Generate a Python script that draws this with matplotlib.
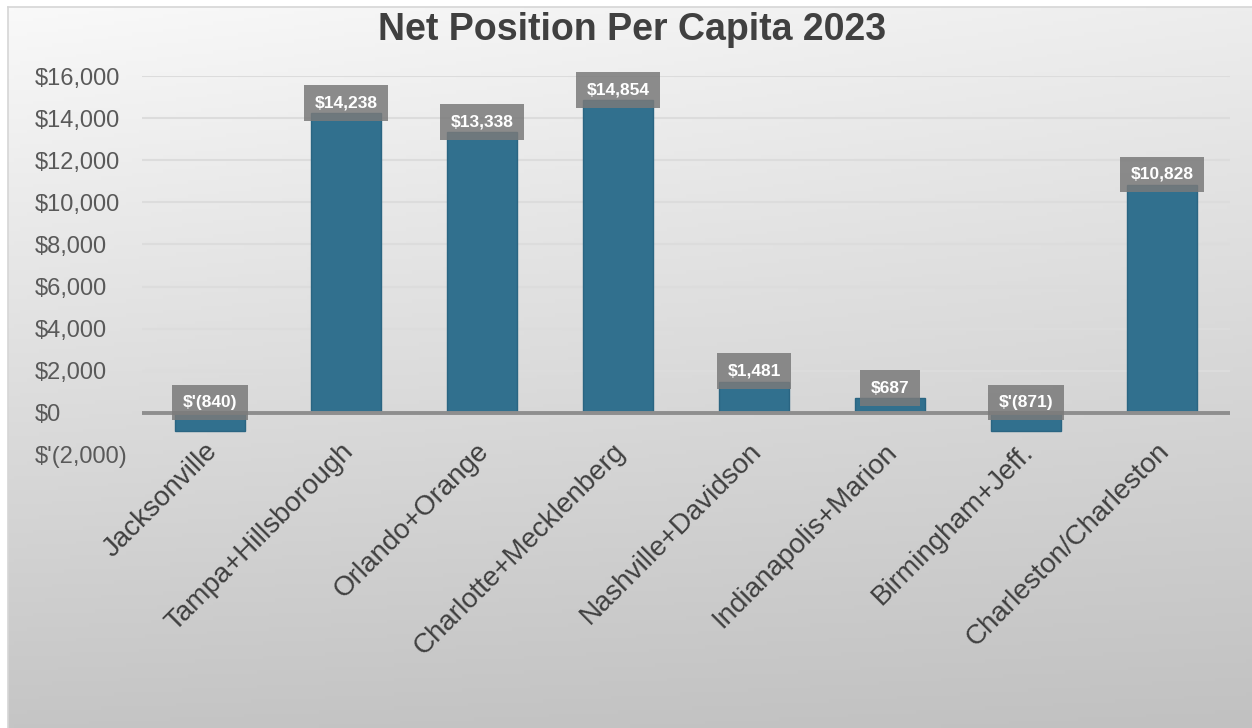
import matplotlib.pyplot as plt
import matplotlib.transforms as mtransforms
import numpy as np

plt.rcParams['font.family'] = ['Liberation Sans', 'DejaVu Sans']

# net position per capita by city/county pair
places = ['Jacksonville', 'Tampa+Hillsborough', 'Orlando+Orange',
          'Charlotte+Mecklenberg', 'Nashville+Davidson', 'Indianapolis+Marion',
          'Birmingham+Jeff.', 'Charleston/Charleston']
net_per_capita = [-840, 14238, 13338, 14854, 1481, 687, -871, 10828]
y_ticks = [-2000, 0, 2000, 4000, 6000, 8000, 10000, 12000, 14000, 16000]


def money(v):
    if v < 0:
        return "$'({:,.0f})".format(-v)
    return "${:,.0f}".format(v)


W, H = 1252, 728
fig = plt.figure(figsize=(W / 100, H / 100), dpi=100)
fig.patch.set_facecolor('white')

# grey gradient panel behind the chart
bg = fig.add_axes([8 / W, 0, 1 - 8 / W, 1 - 7 / H], zorder=0)
yy, xx = np.mgrid[0:1:200j, 0:1:200j]
shade = (249 - 52 * yy - 12 * xx + 8 * xx * yy) / 255
bg.imshow(np.dstack([shade] * 3), aspect='auto', extent=[0, 1, 0, 1],
          origin='upper')
bg.set_xlim(0, 1)
bg.set_ylim(0, 1)
for s in bg.spines.values():
    s.set_color('#d6d6d6')
    s.set_linewidth(1.2)
bg.spines['bottom'].set_visible(False)
bg.spines['right'].set_visible(False)
bg.set_xticks([])
bg.set_yticks([])

ax = fig.add_axes([142 / W, 273 / H, (1230 - 142) / W, (455 - 76) / H],
                  zorder=1)
ax.patch.set_alpha(0)
x = np.arange(len(places))
ax.set_xlim(-0.5, len(places) - 0.5)
ax.set_ylim(-2000, 16000)

ax.hlines([t for t in y_ticks if t > 0], -0.5, len(places) - 0.5,
          color='#dcdcdc', lw=1.5, zorder=1)
ax.bar(x, net_per_capita, width=0.52, color='#31708e', edgecolor='#2a6582',
       linewidth=1, zorder=2)
ax.axhline(0, color='#8e8e8e', lw=2.8, zorder=3)

for xi, v in zip(x, net_per_capita):
    ax.annotate(money(v), (xi, max(v, 0)), xytext=(0, 7.5),
                textcoords='offset points', ha='center', va='center',
                color='white', fontsize=12.5, fontweight='bold', zorder=4,
                bbox=dict(boxstyle='square,pad=0.6', fc='#7a7a7a', ec='none',
                          alpha=0.85))

for s in ax.spines.values():
    s.set_visible(False)

ax.set_yticks(y_ticks, [money(t) for t in y_ticks])
ax.tick_params(axis='y', length=0, pad=77, labelsize=17, labelcolor='#595959')
for lab in ax.get_yticklabels():
    lab.set_ha('left')

ax.set_xticks(x, places)
ax.tick_params(axis='x', length=0, pad=-12, labelsize=20, labelcolor='#404040')
shift = mtransforms.ScaledTranslation(-6 / 100, 0, fig.dpi_scale_trans)
for lab in ax.get_xticklabels():
    lab.set_rotation(45)
    lab.set_ha('right')
    lab.set_va('top')
    lab.set_rotation_mode('anchor')
    lab.set_transform(lab.get_transform() + shift)

fig.text(632 / W, 1 - 30 / H, 'Net Position Per Capita 2023', ha='center',
         va='center', fontsize=27, fontweight='bold', color='#404040')

fig.savefig('out.png', dpi=100)
